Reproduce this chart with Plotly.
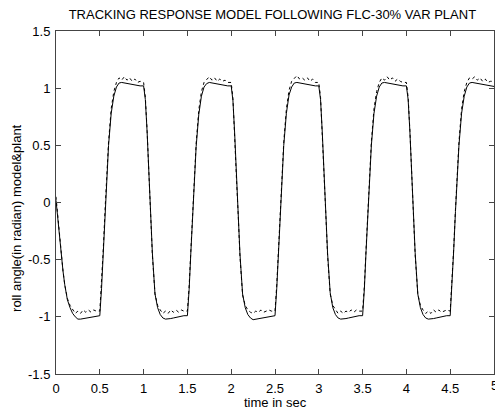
import plotly.graph_objects as go

# time samples (s)
time_s = [
    0.00, 0.02, 0.04, 0.06, 0.08, 0.10, 0.13, 0.16, 0.19, 0.22, 0.25, 0.28, 0.31, 0.34, 0.37, 0.40, 0.43, 0.46,
    0.50, 0.52, 0.54, 0.56, 0.58, 0.60, 0.63, 0.66, 0.69, 0.72, 0.75, 0.78, 0.81, 0.84, 0.87, 0.90, 0.93, 0.96,
    1.00, 1.02, 1.04, 1.06, 1.08, 1.10, 1.13, 1.16, 1.19, 1.22, 1.25, 1.28, 1.31, 1.34, 1.37, 1.40, 1.43, 1.46,
    1.50, 1.52, 1.54, 1.56, 1.58, 1.60, 1.63, 1.66, 1.69, 1.72, 1.75, 1.78, 1.81, 1.84, 1.87, 1.90, 1.93, 1.96,
    2.00, 2.02, 2.04, 2.06, 2.08, 2.10, 2.13, 2.16, 2.19, 2.22, 2.25, 2.28, 2.31, 2.34, 2.37, 2.40, 2.43, 2.46,
    2.50, 2.52, 2.54, 2.56, 2.58, 2.60, 2.63, 2.66, 2.69, 2.72, 2.75, 2.78, 2.81, 2.84, 2.87, 2.90, 2.93, 2.96,
    3.00, 3.02, 3.04, 3.06, 3.08, 3.10, 3.13, 3.16, 3.19, 3.22, 3.25, 3.28, 3.31, 3.34, 3.37, 3.40, 3.43, 3.46,
    3.50, 3.52, 3.54, 3.56, 3.58, 3.60, 3.63, 3.66, 3.69, 3.72, 3.75, 3.78, 3.81, 3.84, 3.87, 3.90, 3.93, 3.96,
    4.00, 4.02, 4.04, 4.06, 4.08, 4.10, 4.13, 4.16, 4.19, 4.22, 4.25, 4.28, 4.31, 4.34, 4.37, 4.40, 4.43, 4.46,
    4.50, 4.52, 4.54, 4.56, 4.58, 4.60, 4.63, 4.66, 4.69, 4.72, 4.75, 4.78, 4.81, 4.84, 4.87, 4.90, 4.93, 4.96,
    5.00,
]

# solid curve (plant)
plant = [
    0.02, -0.15, -0.32, -0.47, -0.60, -0.72, -0.85, -0.92, -0.97, -1.00, -1.02, -1.02, -1.015, -1.01, -1.005, -1.00, -0.995, -0.99,
    -0.99, -0.75, -0.42, -0.08, 0.20, 0.50, 0.78, 0.93, 1.01, 1.045, 1.05, 1.045, 1.04, 1.035, 1.03, 1.025, 1.02, 1.02,
    1.02, 0.90, 0.62, 0.22, -0.08, -0.44, -0.80, -0.92, -0.98, -1.01, -1.02, -1.02, -1.015, -1.01, -1.005, -1.00, -0.995, -0.99,
    -0.99, -0.76, -0.43, -0.09, 0.19, 0.49, 0.77, 0.93, 1.01, 1.04, 1.05, 1.045, 1.04, 1.035, 1.03, 1.025, 1.02, 1.02,
    1.02, 0.89, 0.60, 0.21, -0.09, -0.45, -0.80, -0.92, -0.98, -1.01, -1.025, -1.02, -1.015, -1.01, -1.005, -1.00, -0.995, -0.99,
    -0.99, -0.75, -0.42, -0.08, 0.20, 0.50, 0.78, 0.94, 1.01, 1.045, 1.05, 1.045, 1.04, 1.035, 1.03, 1.025, 1.02, 1.02,
    1.02, 0.90, 0.61, 0.21, -0.08, -0.44, -0.79, -0.92, -0.98, -1.01, -1.02, -1.02, -1.015, -1.01, -1.005, -1.00, -0.995, -0.99,
    -0.99, -0.76, -0.42, -0.08, 0.20, 0.50, 0.78, 0.93, 1.01, 1.045, 1.05, 1.045, 1.04, 1.035, 1.03, 1.025, 1.02, 1.02,
    1.02, 0.90, 0.62, 0.22, -0.08, -0.44, -0.80, -0.92, -0.98, -1.01, -1.02, -1.02, -1.015, -1.01, -1.005, -1.00, -0.995, -0.99,
    -0.99, -0.75, -0.42, -0.08, 0.20, 0.50, 0.78, 0.93, 1.01, 1.045, 1.05, 1.045, 1.04, 1.035, 1.03, 1.025, 1.02, 1.02,
    1.015,
]

# dotted curve (model)
model = [
    0.05, -0.13, -0.30, -0.46, -0.60, -0.72, -0.84, -0.90, -0.94, -0.97, -0.95, -0.97, -0.94, -0.96, -0.94, -0.96, -0.94, -0.95,
    -0.95, -0.72, -0.40, -0.06, 0.23, 0.53, 0.82, 0.97, 1.05, 1.09, 1.07, 1.10, 1.07, 1.09, 1.06, 1.08, 1.05, 1.06,
    1.05, 0.92, 0.63, 0.22, -0.10, -0.46, -0.80, -0.90, -0.94, -0.97, -0.95, -0.97, -0.94, -0.96, -0.94, -0.96, -0.94, -0.95,
    -0.95, -0.73, -0.41, -0.07, 0.22, 0.52, 0.81, 0.97, 1.05, 1.08, 1.10, 1.07, 1.09, 1.06, 1.08, 1.06, 1.07, 1.05,
    1.05, 0.91, 0.62, 0.21, -0.11, -0.47, -0.81, -0.90, -0.94, -0.96, -0.97, -0.95, -0.96, -0.94, -0.96, -0.95, -0.94, -0.95,
    -0.95, -0.72, -0.40, -0.06, 0.23, 0.53, 0.82, 0.98, 1.06, 1.09, 1.11, 1.08, 1.09, 1.07, 1.09, 1.06, 1.08, 1.05,
    1.05, 0.92, 0.62, 0.21, -0.10, -0.46, -0.80, -0.90, -0.94, -0.97, -0.95, -0.97, -0.95, -0.96, -0.94, -0.96, -0.94, -0.95,
    -0.95, -0.73, -0.40, -0.06, 0.23, 0.53, 0.82, 0.97, 1.05, 1.09, 1.07, 1.10, 1.07, 1.09, 1.06, 1.08, 1.06, 1.05,
    1.05, 0.92, 0.63, 0.22, -0.10, -0.46, -0.80, -0.90, -0.94, -0.97, -0.95, -0.97, -0.94, -0.96, -0.94, -0.96, -0.95, -0.94,
    -0.95, -0.72, -0.40, -0.06, 0.23, 0.53, 0.82, 0.97, 1.05, 1.09, 1.08, 1.10, 1.07, 1.09, 1.06, 1.08, 1.05, 1.06,
    1.06,
]

x_ticks = [0, 0.5, 1, 1.5, 2, 2.5, 3, 3.5, 4, 4.5, 5]
x_tick_labels = ["0", "0.5", "1", "1.5", "2", "2.5", "3", "3.5", "4", "4.5", "5"]
y_ticks = [-1.5, -1, -0.5, 0, 0.5, 1, 1.5]
y_tick_labels = ["-1.5", "-1", "-0.5", "0", "0.5", "1", "1.5"]

title_text = "TRACKING RESPONSE MODEL FOLLOWING FLC-30% VAR PLANT"
x_label = "time in sec"
y_label = "roll angle(in radian) model&plant"

FONT = "Liberation Sans, Arial, Helvetica, sans-serif"
AX = "#444444"

fig = go.Figure()
fig.add_trace(go.Scatter(x=time_s, y=model, mode="lines", name="model",
                         line=dict(color="black", width=1, dash="dot")))
fig.add_trace(go.Scatter(x=time_s, y=plant, mode="lines", name="plant",
                         line=dict(color="black", width=1)))

axis_common = dict(showline=True, linecolor=AX, linewidth=1, mirror="ticks",
                   ticks="inside", ticklen=5, tickcolor=AX, tickwidth=1,
                   showgrid=False, zeroline=False, automargin=False,
                   tickfont=dict(family=FONT, size=13, color="black"))

fig.update_xaxes(range=[0, 5], tickvals=x_ticks, ticktext=x_tick_labels,
                 ticklabelstandoff=2, **axis_common)
fig.update_yaxes(range=[-1.5, 1.5], tickvals=y_ticks, ticktext=y_tick_labels,
                 ticklabelstandoff=2, **axis_common)

annots = [
    dict(text=x_label, x=0.5, xref="paper", y=-28.5 / 343, yref="paper",
         xanchor="center", yanchor="middle", showarrow=False,
         font=dict(family=FONT, size=13, color="black")),
    dict(text=y_label, x=-39 / 438, xref="paper", y=0.455, yref="paper",
         xanchor="center", yanchor="middle", showarrow=False, textangle=-90,
         font=dict(family=FONT, size=13, color="black")),
    # last x tick label, clipped by the page edge as in the reference
    dict(text=x_tick_labels[-1], x=x_ticks[-1], xref="x", y=-11 / 343, yref="paper",
         xanchor="center", yanchor="middle", showarrow=False,
         font=dict(family=FONT, size=13, color="black")),
]

fig.update_layout(
    width=495, height=411,
    margin=dict(l=56, r=1, t=31, b=37, autoexpand=False),
    paper_bgcolor="white", plot_bgcolor="white",
    showlegend=False,
    font=dict(family=FONT, size=13, color="black"),
    title=dict(text=title_text, x=0.494, xanchor="center", xref="paper",
               y=1 - 14.5 / 411, yref="container", yanchor="middle",
               font=dict(family=FONT, size=13, color="black")),
    annotations=annots,
)

fig.write_html("out.html", config={"displayModeBar": False},
               post_script="document.body.style.margin='0px';document.body.style.padding='0px';")
